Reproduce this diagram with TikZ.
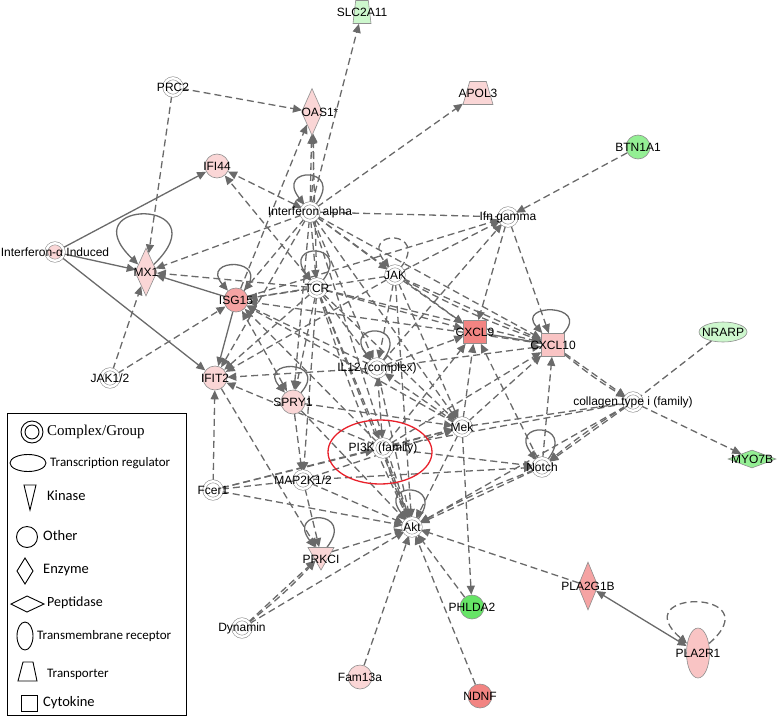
\documentclass[tikz,border=0pt]{standalone}
\usepackage{fontspec}
\setmainfont{Liberation Sans}
\newfontfamily\legsans{Carlito}
\newfontfamily\legserif{Liberation Serif}
\usetikzlibrary{shapes.geometric,arrows.meta,backgrounds}
\definecolor{linegray}{HTML}{6A6A6A}
\definecolor{rimgray}{HTML}{8E8E8E}
\definecolor{uplight}{HTML}{FAD6D6}
\definecolor{upsoft}{HTML}{F9C4C4}
\definecolor{upmid}{HTML}{F5A3A3}
\definecolor{updeep}{HTML}{F28482}
\definecolor{downlight}{HTML}{CDF7CD}
\definecolor{downmid}{HTML}{94EF94}
\definecolor{downdeep}{HTML}{66E466}
\definecolor{ringred}{HTML}{E8202A}
\begin{document}
\begin{tikzpicture}[x=1pt,y=1pt,yscale=-1,
>={Triangle[length=9pt,width=8pt]},
lbl/.style={font=\fontsize{12}{13}\selectfont, inner sep=0pt},
shp/.style={draw=rimgray, line width=0.6pt, inner sep=0pt},
cplx/.style={shp, circle, double, double distance=2.4pt, fill=white, minimum size=17.5pt},
other/.style={shp, circle, minimum size=24pt},
enzyme/.style={shp, diamond, minimum width=21pt, minimum height=47pt},
peptidase/.style={shp, diamond, minimum width=48pt, minimum height=18pt},
transporter/.style={shp, trapezium, trapezium angle=68, trapezium stretches=true, inner sep=1pt, minimum width=30pt, minimum height=23pt},
kinase/.style={shp, regular polygon, regular polygon sides=3, shape border rotate=180, minimum size=30pt},
cytokine/.style={shp, rectangle, minimum size=23pt},
regulator/.style={shp, ellipse, minimum width=48pt, minimum height=20pt},
receptor/.style={shp, ellipse, minimum width=23pt, minimum height=50pt},
rel/.style={draw=linegray, line width=1.3pt, dash pattern=on 7pt off 4pt, ->},
both/.style={rel, <->},
plain/.style={rel, -},
firm/.style={rel, solid},
firmboth/.style={both, solid},
selfloop/.style={out=-60, in=-120, min distance=62pt},
legtext/.style={anchor=west, inner sep=0pt, font=\legsans\fontsize{13}{14}\selectfont},
legshape/.style={draw=black, line width=0.9pt},
]
\useasboundingbox (0,0) rectangle (778,717);

\node[transporter, fill=downlight, minimum width=18pt, trapezium angle=78] (slc) at (362,12) {};
\node[transporter, fill=uplight] (apol) at (478,93) {};
\node[cplx] (prc) at (173,87) {};
\node[enzyme, fill=uplight] (oas) at (312,112) {};
\node[other, fill=uplight] (ifi) at (217,166) {};
\node[other, fill=downmid] (btn) at (638,147) {};
\node[cplx] (ifna) at (310,212) {};
\node[cplx] (ifng) at (508,217) {};
\node[cplx, fill=uplight] (iai) at (55,252) {};
\node[enzyme, fill=uplight, minimum width=22pt, minimum height=48pt] (mx) at (146,272) {};
\node[other, fill=upmid] (isg) at (236,300) {};
\node[cplx] (tcr) at (317,288) {};
\node[cplx] (jak) at (395,275) {};
\node[cytokine, fill=updeep] (cxclnine) at (475,332) {};
\node[cytokine, fill=upsoft] (cxclten) at (553,345) {};
\node[regulator, fill=downlight] (nrarp) at (723,332) {};
\node[cplx] (jakot) at (110,378) {};
\node[other, fill=uplight] (ifit) at (215,378) {};
\node[cplx] (il) at (377,368) {};
\node[other, fill=uplight] (spry) at (293,402) {};
\node[cplx] (coll) at (633,402) {};
\node[cplx] (mek) at (462,427) {};
\node[cplx] (pik) at (383,448) {};
\node[cplx] (notch) at (542,467) {};
\node[peptidase, fill=downmid] (myo) at (752,459) {};
\node[cplx] (fcer) at (213,490) {};
\node[cplx] (mapk) at (303,480) {};
\node[cplx] (akt) at (412,527) {};
\node[kinase, fill=uplight] (prkci) at (321,555) {};
\node[cplx] (dyn) at (242,628) {};
\node[other, fill=downdeep] (phl) at (472,607) {};
\node[enzyme, fill=upmid, minimum width=20pt, minimum height=48pt] (plag) at (588,586) {};
\node[receptor, fill=upsoft] (plar) at (698,653) {};
\node[other, fill=uplight] (fam) at (360,677) {};
\node[other, fill=updeep] (ndnf) at (480,696) {};

\foreach \n/\t in {slc/SLC2A11, apol/APOL3, prc/PRC2, ifi/IFI44, btn/BTN1A1, ifna/Interferon alpha, ifng/Ifn gamma, iai/Interferon-α Induced, mx/MX1, isg/ISG15, tcr/TCR, jak/JAK, cxclnine/CXCL9, cxclten/CXCL10, nrarp/NRARP, jakot/{JAK1/2}, ifit/IFIT2, il/IL12 (complex), spry/SPRY1, coll/collagen type i (family), mek/Mek, pik/PI3K (family), notch/Notch, myo/MYO7B, fcer/Fcer1, mapk/{MAP2K1/2}, akt/Akt, dyn/Dynamin, phl/PHLDA2, plag/PLA2G1B, plar/PLA2R1, fam/Fam13a, ndnf/NDNF}
  \node[lbl] (\n-t) at (\n) {\t};
\node[lbl] (oas-t) at (320,112) {OAS1*};
\node[lbl] (prkci-t) at (321,559) {PRKCI};

\node[ellipse, draw=ringred, line width=1.3pt, minimum width=104pt, minimum height=64pt] (pikring) at (380,452) {};

\begin{pgfonlayer}{background}
\foreach \a/\b in {prc/oas, prc/mx, ifna/slc, ifna/apol, ifna/oas, tcr/oas, isg/oas,
  btn/ifng, jak/ifng, il/ifng, isg/ifng, ifng/cxclnine, ifng/cxclten,
  ifna/jak, ifna/cxclnine, ifna/cxclten, ifna/mx, ifna/isg, ifna/tcr, ifna/il, ifna/ifit, ifna/spry, ifna/akt, ifna/mek,
  tcr/mx, tcr/isg, tcr/ifit, tcr/cxclnine, tcr/cxclten, tcr/il, tcr/spry, tcr/mapk, tcr/akt, tcr/mek, tcr/pik,
  jak/isg, jak/cxclnine, jak/cxclten, jak/il, jak/mek, jak/akt, jak/ifit,
  jakot/isg, jakot/mx,
  il/ifit, il/isg, il/cxclnine, il/cxclten, il/akt, mek/il,
  pik/akt, pik/mek, pik/notch, pik/cxclnine, pik/cxclten, pik/isg, pik/ifit, fcer/pik,
  mek/cxclnine, mek/cxclten, mek/akt, mek/phl, mek/isg,
  spry/mapk, spry/mek, spry/akt,
  mapk/akt, mapk/prkci, mapk/mek, mapk/notch,
  fcer/ifit, fcer/akt, fcer/mek,
  notch/akt, notch/cxclnine, notch/cxclten,
  coll/notch, coll/akt, coll/myo, cxclten/coll, cxclten/isg,
  ifit/prkci, dyn/prkci, dyn/akt, prkci/akt, fam/akt, ndnf/akt, phl/akt, plag/akt}
  \draw[rel] (\a) -- (\b);
\foreach \a/\b in {ifna/oas, pik/akt, dyn/prkci, cxclten/coll, coll/notch, jak/cxclten, notch/akt, tcr/akt}
  \draw[rel] (\a) to[bend left=4] (\b);
\foreach \a/\b in {ifna/ifng, nrarp/coll, mek/coll, fcer/mapk, pik/coll}
  \draw[plain] (\a) -- (\b);
\foreach \a/\b in {ifna/ifi, tcr/ifi, spry/isg, pik/il}
  \draw[both] (\a) -- (\b);
\foreach \a/\b in {iai/ifi, iai/mx, iai/ifit, isg/mx, isg/ifit, cxclnine/cxclten}
  \draw[firm] (\a) -- (\b);
\draw[firmboth] (plag) -- (plar);
\foreach \n in {ifna, tcr, isg, spry, il, cxclten, notch, akt, prkci}
  \draw[firm] (\n) to[selfloop] (\n);
\draw[rel] (jak) to[selfloop] (jak);
\draw[firm] (mx) to[selfloop, out=-50, in=-130, min distance=108pt] (mx);
\draw[rel] (plar) to[selfloop, out=-50, in=-130, min distance=100pt] (plar);
\end{pgfonlayer}

\draw[legshape, line width=1pt] (7,413) rectangle (186,715);
\draw[legshape] (32,432) circle[radius=11] (32,432) circle[radius=7];
\node[legtext, font=\legserif\fontsize{15}{16}\selectfont] (lg-cplx) at (47,432) {Complex/Group};
\draw[legshape] (28,463) ellipse[x radius=18, y radius=8.5];
\node[legtext] (lg-reg) at (50,463) {Transcription regulator};
\draw[legshape] (24,485) -- (36,485) -- (30,510) -- cycle;
\node[legtext, font=\legsans\fontsize{14.5}{15}\selectfont] (lg-kin) at (47,496) {Kinase};
\draw[legshape] (27,537) circle[radius=10.5];
\node[legtext, font=\legsans\fontsize{14.5}{15}\selectfont] (lg-oth) at (43,536) {Other};
\draw[legshape] (25,558) -- (33,571) -- (25,584) -- (17,571) -- cycle;
\node[legtext, font=\legsans\fontsize{14.5}{15}\selectfont] (lg-enz) at (43,570) {Enzyme};
\draw[legshape] (11,604) -- (27,596) -- (44,604) -- (27,612) -- cycle;
\node[legtext, font=\legsans\fontsize{14}{15}\selectfont] (lg-pep) at (47,603) {Peptidase};
\draw[legshape] (25,636) ellipse[x radius=8, y radius=14];
\node[legtext] (lg-rec) at (37,636) {Transmembrane receptor};
\draw[legshape] (18,681) -- (23,662) -- (33,662) -- (37,681) -- cycle;
\node[legtext] (lg-tra) at (47,674) {Transporter};
\draw[legshape] (21,695) rectangle (37,711);
\node[legtext, font=\legsans\fontsize{14.5}{15}\selectfont] (lg-cyt) at (43,703) {Cytokine};
\end{tikzpicture}
\end{document}
